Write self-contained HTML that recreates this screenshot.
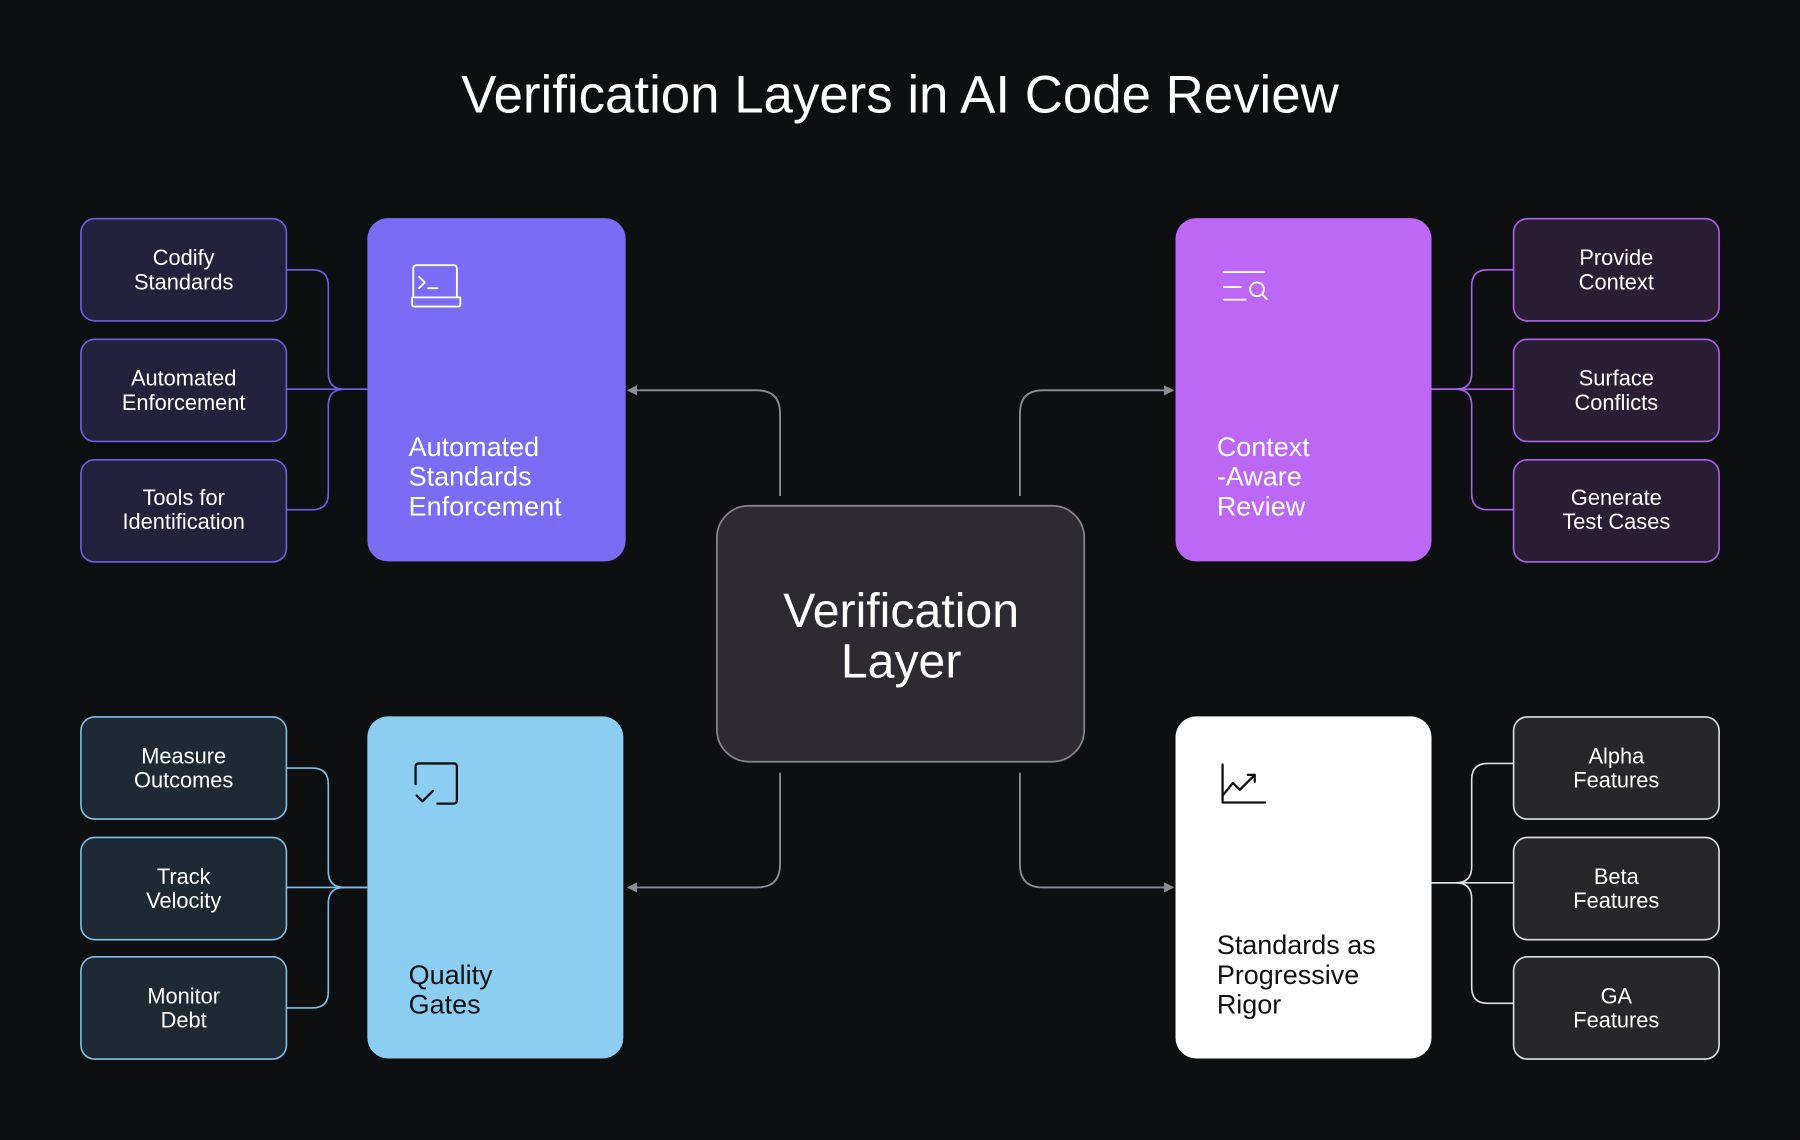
<!DOCTYPE html>
<html><head><meta charset="utf-8"><style>
html,body{margin:0;padding:0;background:#0e0f11;}
svg{display:block}
text{font-family:"Liberation Sans",sans-serif;}
</style></head><body>
<svg width="1800" height="1140" viewBox="0 0 1568 993" xmlns="http://www.w3.org/2000/svg">
<defs>
<marker id="ar" viewBox="0 0 10 10" refX="9" refY="5" markerWidth="9" markerHeight="9" markerUnits="userSpaceOnUse" orient="auto"><path d="M0,0 L10,5 L0,10 z" fill="#8e8a96"/></marker>
</defs>
<rect width="1568" height="993" fill="#0e0f11"/>
<text x="784" y="98" text-anchor="middle" font-size="46" fill="#ffffff">Verification Layers in AI Code Review</text>

<!-- center connectors -->
<g fill="none" stroke="#8e8a96" stroke-width="1.6">
<path d="M679.5,432 V360 Q679.5,340 659.5,340 H547" marker-end="url(#ar)"/>
<path d="M888.5,432 V360 Q888.5,340 908.5,340 H1022" marker-end="url(#ar)"/>
<path d="M679.5,673 V753 Q679.5,773 659.5,773 H547" marker-end="url(#ar)"/>
<path d="M888.5,673 V753 Q888.5,773 908.5,773 H1022" marker-end="url(#ar)"/>
</g>

<!-- brackets -->
<g fill="none" stroke-width="1.4">
<g stroke="#6f5fe8">
<path d="M250,235 H272 Q286,235 286,249 V325 Q286,339 300,339 H320"/>
<path d="M250,444 H272 Q286,444 286,430 V353 Q286,339 300,339"/>
<path d="M250,339 H320"/>
</g>
<g stroke="#7ec0e6">
<path d="M250,669 H272 Q286,669 286,683 V759 Q286,773 300,773 H320"/>
<path d="M250,878 H272 Q286,878 286,864 V787 Q286,773 300,773"/>
<path d="M250,773 H320"/>
</g>
<g stroke="#b060ee">
<path d="M1318,235 H1296 Q1282,235 1282,249 V325 Q1282,339 1268,339 H1247"/>
<path d="M1318,444 H1296 Q1282,444 1282,430 V353 Q1282,339 1268,339"/>
<path d="M1318,339 H1247"/>
</g>
<g stroke="#e0e0e0">
<path d="M1318,665 H1296 Q1282,665 1282,679 V755 Q1282,769 1268,769 H1247"/>
<path d="M1318,874 H1296 Q1282,874 1282,860 V783 Q1282,769 1268,769"/>
<path d="M1318,769 H1247"/>
</g>
</g>

<!-- left small boxes purple -->
<g stroke="#6f5fe8" stroke-width="1.4" fill="#24213d">
<rect x="70.5" y="190.5" width="179" height="89" rx="12"/>
<rect x="70.5" y="295.5" width="179" height="89" rx="12"/>
<rect x="70.5" y="400.5" width="179" height="89" rx="12"/>
</g>
<g stroke="#7ec0e6" stroke-width="1.4" fill="#1e2a33">
<rect x="70.5" y="624.5" width="179" height="89" rx="12"/>
<rect x="70.5" y="729.5" width="179" height="89" rx="12"/>
<rect x="70.5" y="833.5" width="179" height="89" rx="12"/>
</g>
<g stroke="#b060ee" stroke-width="1.4" fill="#2a1e34">
<rect x="1318.5" y="190.5" width="179" height="89" rx="12"/>
<rect x="1318.5" y="295.5" width="179" height="89" rx="12"/>
<rect x="1318.5" y="400.5" width="179" height="89" rx="12"/>
</g>
<g stroke="#e0e0e0" stroke-width="1.4" fill="#27272a">
<rect x="1318.5" y="624.5" width="179" height="89" rx="12"/>
<rect x="1318.5" y="729.5" width="179" height="89" rx="12"/>
<rect x="1318.5" y="833.5" width="179" height="89" rx="12"/>
</g>

<g font-size="19" fill="#ffffff" text-anchor="middle">
<text x="160" y="231">Codify</text><text x="160" y="252">Standards</text>
<text x="160" y="336">Automated</text><text x="160" y="357">Enforcement</text>
<text x="160" y="440">Tools for</text><text x="160" y="461">Identification</text>
<text x="160" y="665">Measure</text><text x="160" y="686">Outcomes</text>
<text x="160" y="770">Track</text><text x="160" y="791">Velocity</text>
<text x="160" y="874">Monitor</text><text x="160" y="895">Debt</text>
<text x="1408" y="231">Provide</text><text x="1408" y="252">Context</text>
<text x="1408" y="336">Surface</text><text x="1408" y="357">Conflicts</text>
<text x="1408" y="440">Generate</text><text x="1408" y="461">Test Cases</text>
<text x="1408" y="665">Alpha</text><text x="1408" y="686">Features</text>
<text x="1408" y="770">Beta</text><text x="1408" y="791">Features</text>
<text x="1408" y="874">GA</text><text x="1408" y="895">Features</text>
</g>

<!-- big boxes -->
<rect x="320" y="190" width="225" height="299" rx="18" fill="#7b6cf6"/>
<rect x="1024" y="190" width="223" height="299" rx="18" fill="#bd67f6"/>
<rect x="320" y="624" width="223" height="298" rx="18" fill="#8ccdf2"/>
<rect x="1024" y="624" width="223" height="298" rx="18" fill="#ffffff"/>
<rect x="624.5" y="440.5" width="320" height="223" rx="28" fill="#2d2a31" stroke="#8a8690" stroke-width="1.5"/>

<g font-size="23.5" fill="#ffffff">
<text x="356" y="397">Automated</text><text x="356" y="423">Standards</text><text x="356" y="449">Enforcement</text>
<text x="1060" y="397">Context</text><text x="1060" y="423">-Aware</text><text x="1060" y="449">Review</text>
</g>
<g font-size="23.5" fill="#111111">
<text x="356" y="857">Quality</text><text x="356" y="883">Gates</text>
<text x="1060" y="831">Standards as</text><text x="1060" y="857">Progressive</text><text x="1060" y="883">Rigor</text>
</g>
<g font-size="42" fill="#ffffff" text-anchor="middle">
<text x="785" y="546">Verification</text><text x="785" y="590">Layer</text>
</g>

<!-- icons -->
<g fill="none" stroke="#ffffff" stroke-width="1.6" stroke-linecap="round" stroke-linejoin="round">
<path d="M360,258 V234 Q360,231 363,231 H395 Q398,231 398,234 V258"/>
<path d="M359,259 H401 V265 Q401,267 399,267 H361 Q359,267 359,265 Z"/>
<path d="M365,241 L370,246 L365,251"/><path d="M373,251 H381"/>
<path d="M1066,237 H1101"/><path d="M1066,250 H1081"/><path d="M1066,261 H1085"/>
<circle cx="1095" cy="252" r="6"/><path d="M1099.5,256.5 L1103.5,260.5"/>
</g>
<g fill="none" stroke="#111111" stroke-width="2" stroke-linecap="round" stroke-linejoin="round">
<path d="M362,683 V668 Q362,665 365,665 H395 Q398,665 398,668 V697 Q398,700 395,700 H381"/>
<path d="M363,693 L368,698 L377,689"/>
<path d="M1065,666 V699 H1102"/>
<path d="M1065,693 L1074,682 L1080,688 L1093,675"/><path d="M1087,675 H1093 V681"/>
</g>
</svg>
</body></html>
